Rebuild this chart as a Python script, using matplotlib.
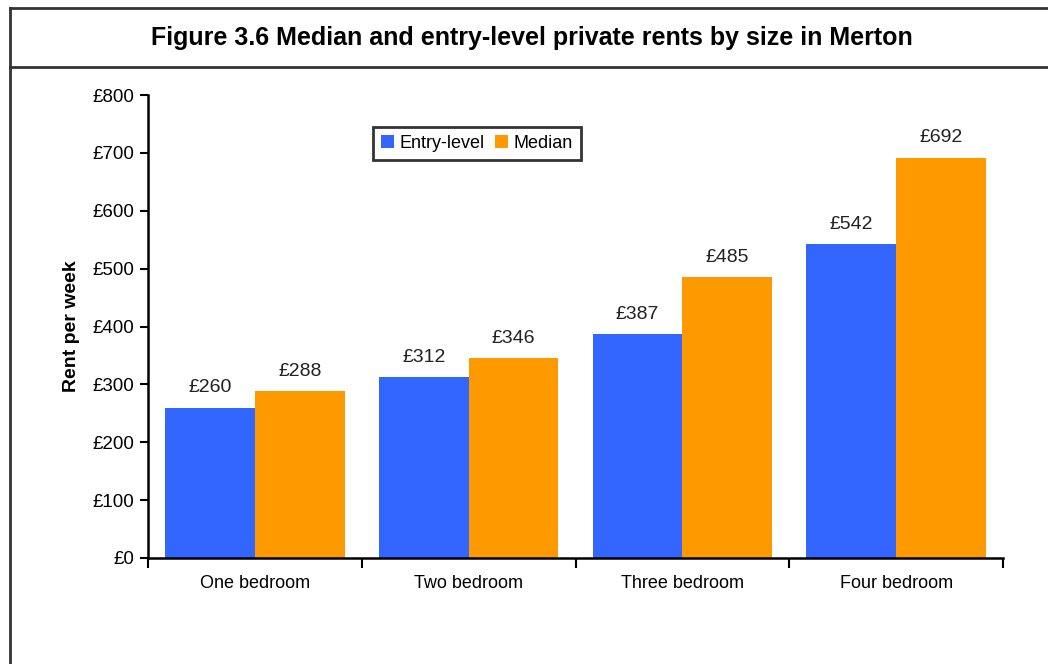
import numpy as np
import matplotlib.pyplot as plt
from matplotlib.lines import Line2D

categories = ["One bedroom", "Two bedroom", "Three bedroom", "Four bedroom"]
entry_level = [260, 312, 387, 542]
median = [288, 346, 485, 692]
series_names = ["Entry-level", "Median"]
colors = ["#3366FF", "#FF9900"]

plt.rcParams["font.family"] = ["Liberation Sans", "DejaVu Sans"]

fig = plt.figure(figsize=(10.48, 6.64), dpi=100)
ax = fig.add_axes([148 / 1048, 1 - 558 / 664, (1003 - 148) / 1048, (558 - 95) / 664])

x = np.arange(len(categories))
w = 0.42
bars1 = ax.bar(x - w / 2, entry_level, w, color=colors[0], label=series_names[0])
bars2 = ax.bar(x + w / 2, median, w, color=colors[1], label=series_names[1])

for bars in (bars1, bars2):
    for b in bars:
        ax.annotate(f"£{int(b.get_height())}", (b.get_x() + b.get_width() / 2, b.get_height()),
                    xytext=(0, 8), textcoords="offset points", ha="center", va="bottom",
                    fontsize=14, color="#222222")

ax.set_xlim(-0.5, len(categories) - 0.5)
ax.set_ylim(0, 800)
ax.set_yticks(range(0, 801, 100))
ax.set_yticklabels([f"£{v}" for v in range(0, 801, 100)], fontsize=13.5)
ax.set_xticks(np.arange(len(categories) + 1) - 0.5)
ax.set_xticklabels([])
ax.set_xticks(x, minor=True)
ax.set_xticklabels(categories, minor=True, fontsize=13)
ax.tick_params(axis="x", which="minor", length=0, pad=12)
ax.tick_params(axis="x", which="major", length=7, width=1.5, direction="out")
ax.tick_params(axis="y", length=6, width=1.5, direction="out", pad=4)

for s in ["top", "right"]:
    ax.spines[s].set_visible(False)
for s in ["left", "bottom"]:
    ax.spines[s].set_linewidth(1.8)

ax.set_ylabel("Rent per week", fontsize=14, fontweight="bold", labelpad=9)

leg = ax.legend(loc="upper left", bbox_to_anchor=(225 / 855, 0.931), ncol=2, fontsize=13,
                frameon=True, fancybox=False, handlelength=0.7, handleheight=0.7,
                handletextpad=0.3, columnspacing=0.6, borderpad=0.45, borderaxespad=0)
leg.get_frame().set_edgecolor("black")
leg.get_frame().set_linewidth(2)

fig.text(532 / 1048, 1 - 38 / 664, "Figure 3.6 Median and entry-level private rents by size in Merton",
         ha="center", va="center", fontsize=18, fontweight="bold")

# frame lines around the figure
for y in (8, 67):
    fig.add_artist(Line2D([10 / 1048, 1], [1 - y / 664] * 2, color="#333333", lw=2,
                          transform=fig.transFigure))
fig.add_artist(Line2D([10 / 1048] * 2, [0, 1 - 8 / 664], color="#333333", lw=2,
                      transform=fig.transFigure))

fig.savefig("out.png", dpi=100)
